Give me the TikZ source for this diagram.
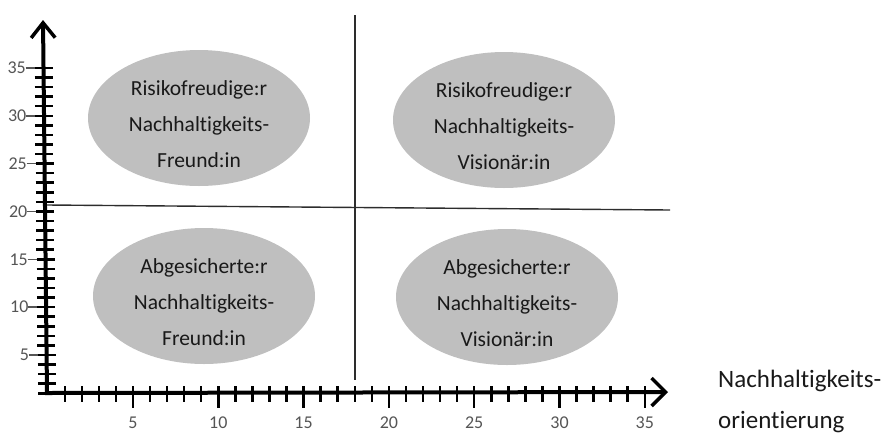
\documentclass[tikz,border=0pt]{standalone}
\usepackage{fontspec}
\setmainfont{Carlito}[Ligatures=NoCommon]
\usetikzlibrary{shapes.geometric,arrows.meta,calc}
\definecolor{ellfill}{RGB}{191,191,191}
\definecolor{inkc}{RGB}{25,25,25}
\definecolor{numc}{RGB}{85,85,85}
\definecolor{linec}{RGB}{45,45,45}
\begin{document}
\begin{tikzpicture}[x=1pt,y=-1pt,
  ell/.style={ellipse, fill=ellfill, minimum width=222pt, minimum height=136pt, inner sep=0pt},
  elltext/.style={align=center, text=inkc, font=\fontsize{21.5}{36}\selectfont, inner sep=0pt},
  quad/.style={draw=linec, line width=1.4pt},
  axisline/.style={line width=4pt, draw=black, line join=miter},
  tickmark/.style={line width=2.5pt, draw=black},
  tickext/.style={line width=1.5pt, draw=numc},
  numlab/.style={text=numc, font=\fontsize{18}{18}\selectfont, inner sep=0pt},
  axlab/.style={text=inkc, font=\fontsize{25}{30}\selectfont, inner sep=0pt, anchor=base west},
]
\useasboundingbox (0,0) rectangle (889,440);

% quadrant lines
\coordinate (vtop) at (355,15);
\coordinate (vbot) at (355,380);
\coordinate (hl) at (47,205);
\coordinate (hr) at (670,210);
\draw[quad] (vtop) -- (vbot);
\draw[quad] (hl) -- (hr);

% ellipses
\node[ell] (e1) at (199,118) {};
\node[ell] (e2) at (504,120) {};
\node[ell] (e3) at (204,296) {};
\node[ell] (e4) at (507,297) {};
\node[elltext] (t1) at ($(e1)+(0,6)$) {Risikofreudige:r\\Nachhaltigkeits-\\Freund:in};
\node[elltext] (t2) at ($(e2)+(0,6)$) {Risikofreudige:r\\Nachhaltigkeits-\\Visionär:in};
\node[elltext] (t3) at ($(e3)+(0,6)$) {Abgesicherte:r\\Nachhaltigkeits-\\Freund:in};
\node[elltext] (t4) at ($(e4)+(0,6)$) {Abgesicherte:r\\Nachhaltigkeits-\\Visionär:in};

% y ticks
\foreach \k in {1,...,35}{
  \pgfmathsetmacro{\yy}{355-(\k-5)*9.57}
  \pgfmathsetmacro{\xc}{47-4*(393-\yy)/373}
  \draw[tickmark] (\xc-9,\yy) -- (\xc+9,\yy);
}
\foreach \k in {5,10,...,35}{
  \pgfmathsetmacro{\yy}{355-(\k-5)*9.57}
  \pgfmathsetmacro{\xc}{47-4*(393-\yy)/373}
  \draw[tickext] (\xc-18,\yy) -- (\xc-9,\yy);
  \node[numlab, anchor=east] (yl\k) at (\xc-17.5,\yy) {\k};
}

% x ticks
\foreach \k in {1,...,35}{
  \pgfmathsetmacro{\xx}{47.7+17.06*\k}
  \draw[tickmark] (\xx,386) -- (\xx,402);
}
\foreach \k in {5,10,...,35}{
  \pgfmathsetmacro{\xx}{47.7+17.06*\k}
  \draw[tickmark] (\xx,400) -- (\xx,408);
  \node[numlab] (xl\k) at (\xx,423) {\k};
}

% axes
\coordinate (O) at (47,393);
\coordinate (ytop) at (43,20);
\coordinate (xend) at (668,392);
\draw[axisline, {Straight Barb[length=15pt,width=24pt,line width=3.5pt]}-{Straight Barb[length=14pt,width=28pt,line width=3.5pt]}] (ytop) -- (O) -- (xend);

% axis label
\node[axlab] (xa1) at (718,387) {Nachhaltigkeits-};
\node[axlab] (xa2) at (718,428) {orientierung};
\end{tikzpicture}
\end{document}
